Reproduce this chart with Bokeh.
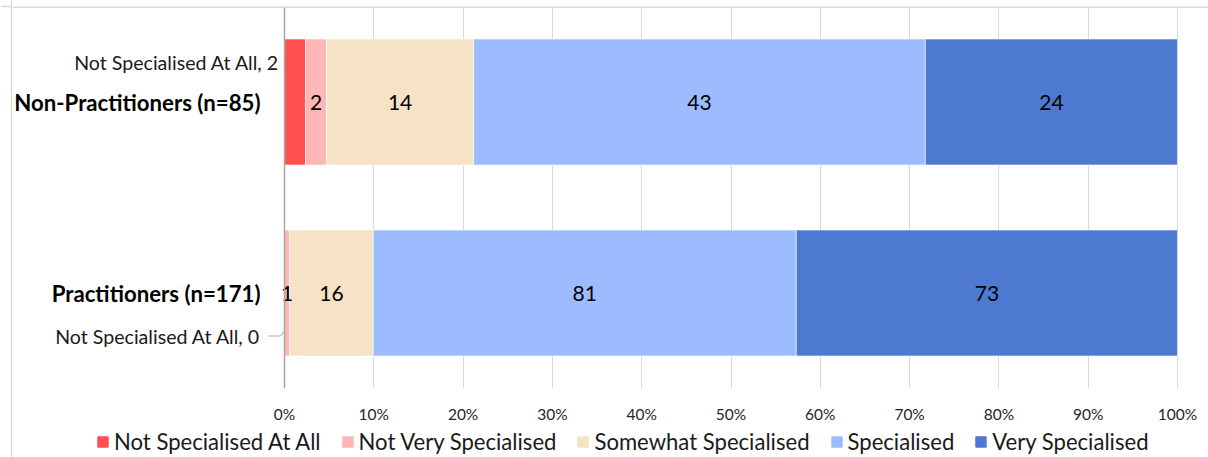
from bokeh.plotting import figure
from bokeh.layouts import column, row
from bokeh.models import (Range1d, FixedTicker, NumeralTickFormatter, ColumnDataSource,
                          Legend, LegendItem, Span)
from bokeh.core.properties import value
from bokeh.embed import file_html
from bokeh.resources import INLINE

groups = ["Non-Practitioners (n=85)", "Practitioners (n=171)"]
categories = ["Not Specialised At All", "Not Very Specialised", "Somewhat Specialised",
              "Specialised", "Very Specialised"]
non_practitioners = [2, 2, 14, 43, 24]
practitioners = [0, 1, 16, 81, 73]
colors = ["#FF4F4F", "#FFB6B7", "#F6E2C5", "#9DBCFF", "#4D79D1"]
x_ticks = [0, 0.1, 0.2, 0.3, 0.4, 0.5, 0.6, 0.7, 0.8, 0.9, 1.0]

FONT = "Lato"
counts = [non_practitioners, practitioners]
ys = [len(groups) - i - 0.5 for i in range(len(groups))]

data = {"y": ys}
lefts = [[0.0] * len(categories) for _ in groups]
shares = [[0.0] * len(categories) for _ in groups]
for gi, r in enumerate(counts):
    tot = sum(r)
    acc = 0.0
    for ci, v in enumerate(r):
        lefts[gi][ci] = acc
        shares[gi][ci] = v / tot
        acc += v / tot
for ci, c in enumerate(categories):
    data[c] = [shares[gi][ci] for gi in range(len(groups))]
source = ColumnDataSource(data)

# geometry (pixels)
W, H = 1208, 457
STRIP = 12                    # left strip holding the chart-area border line
WM = W - STRIP                # width of the main figures
H1 = 428                      # main figure height; legend strip below
FR_TOP, FR_BOTTOM = 6, 388
X0_PX, X1_PX = 284, 1177
PXX = X1_PX - X0_PX
PXY = (FR_BOTTOM - FR_TOP) / 2
BORDER = "#D9D9D9"


def x_range():
    return Range1d(-(X0_PX - STRIP) / PXX, 1 + (W - X1_PX) / PXX)


# left border strip
s = figure(width=STRIP, height=H, output_backend="svg", toolbar_location=None,
           x_range=Range1d(0, STRIP), y_range=Range1d(0, H))
s.min_border_left = s.min_border_right = s.min_border_top = s.min_border_bottom = 0
s.axis.visible = False
s.grid.visible = False
s.outline_line_color = None
s.border_fill_color = "white"
s.add_layout(Span(location=STRIP - 1, dimension="height", line_color=BORDER,
                  line_width=1.5))
s.add_layout(Span(location=H - FR_TOP, dimension="width", line_color=BORDER,
                  line_width=1.5))

p = figure(width=WM, height=H1, output_backend="svg", toolbar_location=None,
           x_range=x_range(), y_range=Range1d(0, 2))
p.min_border_left = 0
p.min_border_right = 0
p.min_border_top = FR_TOP
p.min_border_bottom = H1 - FR_BOTTOM
p.outline_line_color = None
p.background_fill_color = "white"
p.border_fill_color = "white"
p.yaxis.visible = False

BAR_H = 126 / PXY
renderers = p.hbar_stack(categories, y="y", height=BAR_H, color=colors, source=source,
                         line_color="white", line_width=0.6)

# grid
p.ygrid.grid_line_color = None
p.xgrid.ticker = FixedTicker(ticks=x_ticks)
p.xgrid.grid_line_color = "#D9D9D9"
p.xgrid.grid_line_width = 1
p.xgrid.level = "underlay"

# value axis line at 0
p.add_layout(Span(location=0, dimension="height", line_color="#A6A6A6", line_width=1.5))
# chart border (top)
p.add_layout(Span(location=2, dimension="width", line_color=BORDER, line_width=3))

# x axis
p.xaxis.ticker = FixedTicker(ticks=x_ticks)
p.xaxis.formatter = NumeralTickFormatter(format="0%")
p.xaxis.axis_line_color = None
p.xaxis.major_tick_line_color = None
p.xaxis.minor_tick_line_color = None
p.xaxis.major_tick_out = 0
p.xaxis.major_label_standoff = 16
p.xaxis.major_label_text_font = FONT
p.xaxis.major_label_text_font_size = "15.5px"
p.xaxis.major_label_text_color = "#262626"

# category labels
p.text(x=[0] * len(groups), y=ys, text=groups, x_offset=-24, text_align="right",
       text_baseline="middle", text_font=value(FONT), text_font_size="22.2px",
       text_font_style="bold", text_color="black")

# in-bar value labels
tx, ty, tt = [], [], []
for gi in range(len(groups)):
    for ci in range(1, len(categories)):
        v = counts[gi][ci]
        if v > 0:
            tx.append(lefts[gi][ci] + shares[gi][ci] / 2)
            ty.append(ys[gi])
            tt.append(str(v))
p.text(x=tx, y=ty, text=tt, text_align="center", text_baseline="middle",
       text_font=value(FONT), text_font_size="21px", text_color="black")

# outside labels for the first category
out_dy = [40 / PXY, -43 / PXY]
out_dx = [-5, -24]
for gi in range(len(groups)):
    p.text(x=[0], y=[ys[gi] + out_dy[gi]], text=[f"{categories[0]}, {counts[gi][0]}"],
           x_offset=out_dx[gi], text_align="right", text_baseline="middle",
           text_font=value(FONT), text_font_size="19.6px", text_color="#1a1a1a")

# leader line for the practitioners label
ly = ys[1] + out_dy[1]
p.line(x=[-16 / PXX, -4 / PXX, 0], y=[ly, ly, ly + 5 / PXY],
       line_color="#A6A6A6", line_width=1)

# legend strip (separate figure below the chart)
p2 = figure(width=WM, height=H - H1, output_backend="svg", toolbar_location=None,
            x_range=x_range(), y_range=Range1d(10, 11))
p2.min_border_left = 0
p2.min_border_right = 0
p2.min_border_top = 0
p2.min_border_bottom = 0
p2.axis.visible = False
p2.grid.visible = False
p2.outline_line_color = None
p2.border_fill_color = "white"
leg_r = p2.hbar_stack(categories, y="y", height=BAR_H, color=colors, source=source)
items = [LegendItem(label=c, renderers=[r]) for c, r in zip(categories, leg_r)]
legend = Legend(items=items, orientation="horizontal", location=(96 - STRIP, 2),
                label_text_font=FONT, label_text_font_size="22.1px",
                label_text_color="#1a1a1a",
                glyph_width=13, glyph_height=13, spacing=20, padding=0, margin=0,
                label_standoff=5, border_line_color=None, background_fill_alpha=0)
p2.add_layout(legend, "center")

layout = row(s, column(p, p2, spacing=0), spacing=0)
open("out.html", "w").write(file_html(layout, INLINE))
